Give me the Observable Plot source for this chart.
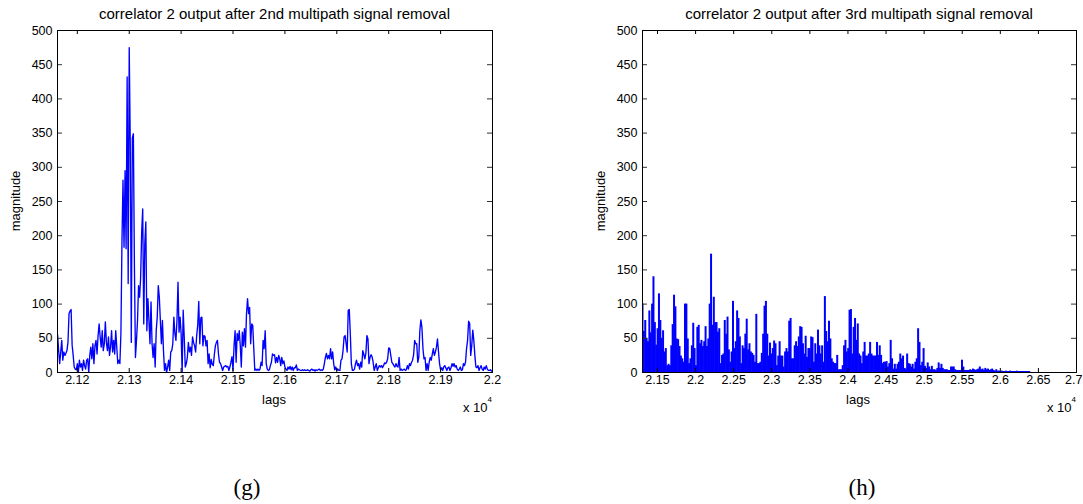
<!DOCTYPE html>
<html><head><meta charset="utf-8">
<script src="https://cdn.jsdelivr.net/npm/d3@7"></script>
<script src="https://cdn.jsdelivr.net/npm/@observablehq/plot@0.6"></script>
<style>
html,body{margin:0;padding:0;background:#fff}
body{width:1083px;height:504px;position:relative;overflow:hidden;font-family:"Liberation Sans",Arial,sans-serif}
.panel{position:absolute;top:0}
#overlay{position:absolute;left:0;top:0;pointer-events:none}
#overlay text{font-family:"Liberation Sans",Arial,sans-serif;fill:#000}
</style></head><body>
<div id="g" class="panel" style="left:0px"></div>
<div id="h" class="panel" style="left:560px"></div>
<svg id="overlay" width="1083" height="504">
  <text id="titleG" x="274.5" y="18.5" font-size="15" text-anchor="middle"></text>
  <text id="titleH" x="859" y="18.5" font-size="15" text-anchor="middle"></text>
  <text id="ylabG" transform="translate(19.5,201) rotate(-90)" font-size="13" text-anchor="middle"></text>
  <text id="ylabH" transform="translate(605,201) rotate(-90)" font-size="13" text-anchor="middle"></text>
  <text id="xlabG" x="274" y="404" font-size="13" text-anchor="middle"></text>
  <text id="xlabH" x="858" y="404" font-size="13" text-anchor="middle"></text>
  <text id="expG" x="492" y="411.5" font-size="13" text-anchor="end"></text>
  <text id="expH" x="1076" y="411.5" font-size="13" text-anchor="end"></text>
  <text id="capG" x="247" y="495" font-size="23" text-anchor="middle" style="font-family:'Liberation Serif','Times New Roman',serif"></text>
  <text id="capH" x="862" y="495" font-size="23" text-anchor="middle" style="font-family:'Liberation Serif','Times New Roman',serif"></text>
</svg>
<script>
// ---------- data ----------
const titles = ["correlator 2 output after 2nd multipath signal removal",
                "correlator 2 output after 3rd multipath signal removal"];
const captions = ["(g)", "(h)"];
const xLabel = "lags";
const yLabel = "magnitude";
const yTicks = [0, 50, 100, 150, 200, 250, 300, 350, 400, 450, 500];
const xTicksG = [21200, 21300, 21400, 21500, 21600, 21700, 21800, 21900, 22000];
const xTicksH = [21500, 22000, 22500, 23000, 23500, 24000, 24500, 25000, 25500, 26000, 26500, 27000];
const xDomainG = [21161.8, 22000];
const xDomainH = [21303, 27000];

// (g) magnitude, one value every 2 lags starting at lag 21162
const lagStartG = 21162, lagStepG = 2;
const magG = [
  55,32,13,30,47,18,30,25,28,32,
  44,86,90,92,40,25,8,5,4,13,
  0,18,8,13,3,18,10,5,18,20,
  0,25,37,20,42,13,39,47,27,54,
  71,52,37,61,32,42,74,44,32,52,
  25,37,61,30,47,27,61,37,13,18,
  13,57,190,281,183,295,181,432,130,475,
  334,44,343,349,156,22,47,76,127,110,
  139,205,239,71,188,220,61,108,76,42,
  103,42,22,42,8,61,81,127,110,76,
  42,76,32,3,13,0,8,18,3,30,
  32,42,81,57,47,76,132,59,81,57,
  0,91,52,8,13,22,44,30,37,25,
  52,44,39,30,54,69,104,42,80,81,
  39,54,53,39,47,13,27,7,19,12,
  10,26,39,44,47,27,15,13,8,3,
  8,9,10,8,9,3,8,15,23,3,
  39,61,15,57,47,61,39,8,59,39,
  64,37,86,108,86,95,42,71,69,35,
  3,5,3,5,3,5,15,10,47,35,
  61,13,5,3,4,10,15,27,25,26,
  14,22,15,25,20,10,22,13,17,8,
  5,3,8,5,9,4,8,3,7,7,
  11,3,5,4,3,3,4,3,4,3,
  3,4,3,2,4,5,3,4,2,4,
  3,4,5,3,4,3,5,13,22,28,
  20,25,20,35,20,30,13,4,8,3,
  5,3,3,18,20,32,52,54,42,30,
  91,92,57,13,3,3,5,13,18,10,
  13,5,15,8,32,27,20,28,54,49,
  13,22,26,23,15,3,8,13,3,7,
  10,8,10,7,10,14,13,15,20,36,
  35,25,15,13,10,8,13,9,8,22,
  3,5,3,4,5,3,4,10,5,13,
  10,15,18,26,47,42,42,15,22,61,
  77,66,35,20,22,3,13,3,15,22,
  18,27,35,25,30,37,49,30,13,4,
  7,3,8,10,7,3,7,8,3,7,
  13,9,13,8,10,5,3,5,8,3,
  4,13,10,15,35,47,75,72,25,39,
  62,47,25,8,7,10,3,7,10,5,
  3,8,5,10,5,3,3,4,2,3
];

// (h) peak magnitude, one value every 18 lags starting at lag 21303
const lagStartH = 21303, lagStepH = 18;
const magH = [
  100,60,76,50,45,90,58,100,140,73,
  40,64,115,76,50,61,30,35,10,12,
  10,39,70,113,96,49,48,38,24,20,
  15,100,100,49,13,20,39,72,35,10,
  66,69,42,47,38,45,67,38,49,100,
  173,69,110,73,73,59,64,13,25,27,
  76,56,81,33,15,30,104,35,45,90,
  79,52,13,39,35,56,78,33,42,30,
  28,25,15,85,13,13,15,28,56,97,
  104,56,24,43,27,35,46,42,10,24,
  45,24,24,8,30,35,30,75,79,20,
  20,39,45,38,52,67,66,42,27,53,
  22,35,35,52,51,15,42,27,62,39,
  27,39,15,111,60,45,75,49,20,15,
  13,13,25,4,4,4,10,39,47,30,
  35,91,92,27,66,79,47,71,27,24,
  13,30,44,24,24,27,44,27,24,24,
  24,44,25,39,25,13,15,15,16,8,
  13,47,20,5,12,5,12,15,27,20,
  24,6,5,27,13,12,8,12,5,15,
  20,64,44,10,15,35,9,6,14,8,
  4,9,4,4,3,6,14,6,12,6,
  4,4,4,3,3,8,8,8,4,3,
  3,3,3,18,8,3,3,3,3,4,
  3,5,4,3,4,5,8,4,5,3,
  6,4,5,3,4,5,3,2,4,2,
  2,1.5,2,1.5,1.5,2,1.5,1.5,2,1.5,
  1.5,1.5,1.5,2,1.5,1.5,1.5,1.5,1.5,1.5,
  1.5,1.5,1.5
];

// ---------- tables ----------
const dataG = magG.map((m, i) => ({lag: lagStartG + i * lagStepG, mag: m}));
const dataH = magH.map((m, i) => ({lag: lagStartH + i * lagStepH, mag: m}));
const fmt = d => String(d / 10000);
const blue = "#0000ff";
const FONT = "'Liberation Sans', Arial, sans-serif";

function panel(opts) {
  const {width, height, ml, mr, mt, mb, domain, xticks, marks, lastEnd} = opts;
  const iw = width - ml - mr, ih = height - mt - mb;
  const mainTicks = lastEnd ? xticks.slice(0, -1) : xticks;
  const endTicks = lastEnd ? xticks.slice(-1) : [];
  return Plot.plot({
    width, height, marginLeft: ml, marginRight: mr, marginTop: mt, marginBottom: mb,
    style: {fontFamily: FONT, fontSize: "12.5px", color: "black", background: "white", overflow: "visible"},
    x: {domain, axis: null},
    y: {domain: [0, 500], ticks: yTicks, tickSize: 0, tickPadding: 5, label: null},
    marks: [
      ...marks,
      Plot.tickY(yTicks, {y: d => d, insetRight: iw - 5, stroke: "#333"}),
      Plot.tickY(yTicks, {y: d => d, insetLeft: iw - 5, stroke: "#333"}),
      Plot.tickX(xticks, {x: d => d, insetBottom: ih - 4, stroke: "black"}),
      Plot.tickX(xticks, {x: d => d, insetTop: ih - 4, stroke: "black"}),
      Plot.frame({stroke: "black"}),
      Plot.text(mainTicks, {x: d => d, text: fmt, frameAnchor: "bottom", dy: 11, fontSize: 12.5, fill: "black"}),
      Plot.text(endTicks, {x: d => d, text: fmt, frameAnchor: "bottom", dy: 11, dx: 6, textAnchor: "end", fontSize: 12.5, fill: "black"})
    ]
  });
}

document.getElementById("g").append(panel({
  width: 540, height: 420, ml: 57, mr: 48, mt: 30, mb: 48,
  domain: xDomainG, xticks: xTicksG, lastEnd: false,
  marks: [Plot.lineY(dataG, {x: "lag", y: "mag", stroke: blue, strokeWidth: 1.35, clip: true})]
}));

document.getElementById("h").append(panel({
  width: 523, height: 420, ml: 82, mr: 7, mt: 30, mb: 48,
  domain: xDomainH, xticks: xTicksH, lastEnd: true,
  marks: [Plot.ruleX(dataH, {x: "lag", y1: 0, y2: "mag", stroke: blue, strokeWidth: 2, clip: true})]
}));

// ---------- texts ----------
const setT = (id, t) => { document.getElementById(id).textContent = t; };
setT("titleG", titles[0]); setT("titleH", titles[1]);
setT("ylabG", yLabel); setT("ylabH", yLabel);
setT("xlabG", xLabel); setT("xlabH", xLabel);
setT("capG", captions[0]); setT("capH", captions[1]);
for (const id of ["expG", "expH"]) {
  const el = document.getElementById(id);
  el.innerHTML = "";
  const a = document.createElementNS("http://www.w3.org/2000/svg", "tspan");
  a.textContent = "x 10";
  const b = document.createElementNS("http://www.w3.org/2000/svg", "tspan");
  b.textContent = "4"; b.setAttribute("font-size", "8"); b.setAttribute("dy", "-10");
  el.append(a, b);
}
</script>
</body></html>
